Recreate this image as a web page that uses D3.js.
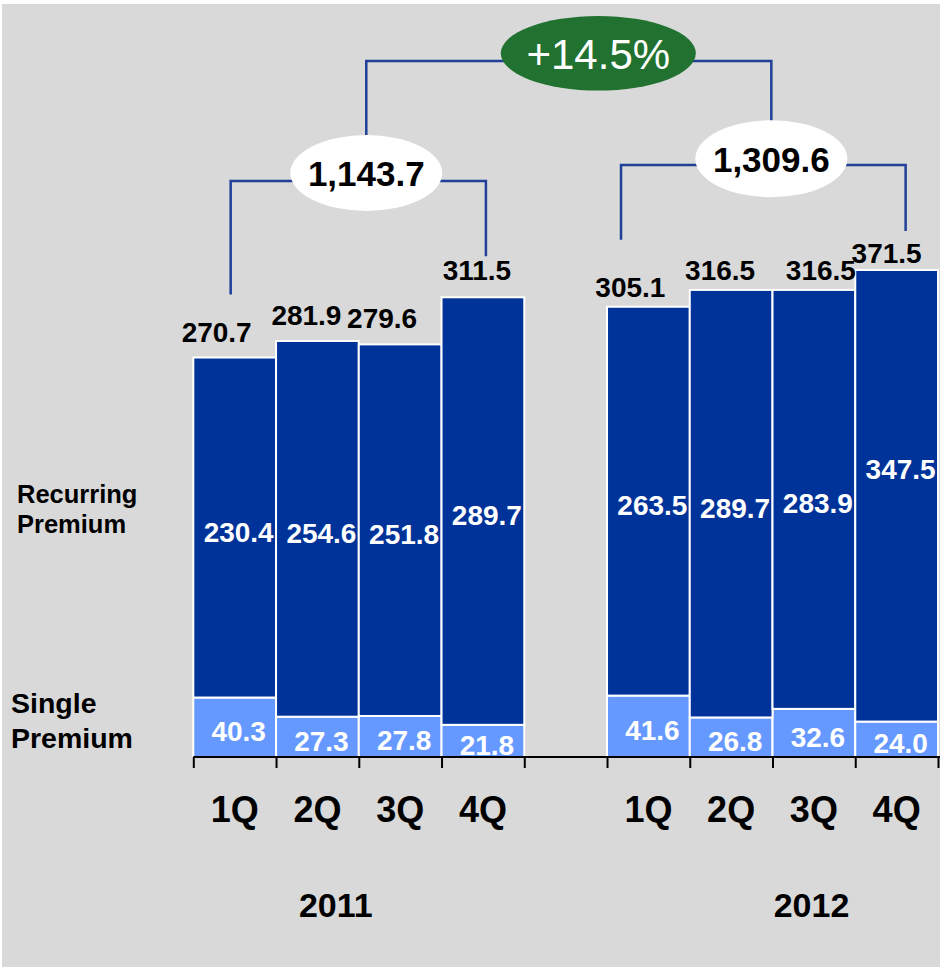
<!DOCTYPE html>
<html>
<head>
<meta charset="utf-8">
<script src="https://cdnjs.cloudflare.com/ajax/libs/d3/7.8.5/d3.min.js"></script>
<style>
  body { margin: 0; background: #fff; }
  text { font-family: "Liberation Sans", Arial, sans-serif; }
</style>
</head>
<body>
<div id="chart"></div>
<script>
// data
var quarters = ["1Q", "2Q", "3Q", "4Q"];
var years = ["2011", "2012"];
var single = [40.3, 27.3, 27.8, 21.8, 41.6, 26.8, 32.6, 24.0];
var recurring = [230.4, 254.6, 251.8, 289.7, 263.5, 289.7, 283.9, 347.5];
var totals = [270.7, 281.9, 279.6, 311.5, 305.1, 316.5, 316.5, 371.5];
var yearTotals = ["1,143.7", "1,309.6"];
var growth = "+14.5%";

// label nudges for the totals above the bars [dx, dy]
var totalNudge = [[-18, -16], [-11, -16], [-18, -16], [-6, -17], [-18, -10], [-11, -10], [7, -10], [-10, -7]];

var W = 940, H = 967;
var svg = d3.select("#chart").append("svg").attr("width", W).attr("height", H);

// grey panel
svg.append("rect").attr("x", 2).attr("y", 4).attr("width", W - 2).attr("height", H - 4).attr("fill", "#d9d9d9");

// build rows
var rows = single.map(function (s, i) {
  var yr = years[Math.floor(i / 4)];
  return { key: yr + "-" + quarters[i % 4], year: yr, q: quarters[i % 4], single: s, recurring: recurring[i], total: totals[i], i: i };
});
var slots = rows.slice(0, 4).map(function (d) { return d.key; })
  .concat(["gap"])
  .concat(rows.slice(4).map(function (d) { return d.key; }));

var x = d3.scaleBand().domain(slots).range([193.3, 938]).padding(0);
var y = d3.scaleLinear().domain([0, 330]).range([757, 270]).clamp(true);
var yRaw = y.copy().clamp(false);

var stack = d3.stack().keys(["single", "recurring"]);
var series = stack(rows);
var colors = { single: "#6699ff", recurring: "#003399" };

// bars
svg.append("g").selectAll("g")
  .data(series).enter().append("g")
  .attr("fill", function (s) { return colors[s.key]; })
  .selectAll("rect")
  .data(function (s) { return s; }).enter().append("rect")
  .attr("x", function (d) { return x(d.data.key); })
  .attr("width", x.bandwidth())
  .attr("y", function (d) { return y(d[1]); })
  .attr("height", function (d) { return y(d[0]) - y(d[1]); })
  .attr("stroke", "#fff")
  .attr("stroke-width", 2);

// in-bar labels
series.forEach(function (s) {
  svg.append("g").selectAll("text")
    .data(s).enter().append("text")
    .attr("x", function (d) { return x(d.data.key) + x.bandwidth() / 2 + 4; })
    .attr("y", function (d) { return (yRaw(d[0]) + yRaw(d[1])) / 2 + 14; })
    .attr("text-anchor", "middle")
    .attr("fill", "#fff")
    .style("font-size", "28px")
    .style("font-weight", "bold")
    .text(function (d) { return d.data[s.key].toFixed(1); });
});

// x axis: ticks at every slot boundary
var xi = d3.scaleLinear().domain([0, slots.length]).range(x.range());
var axis = svg.append("g")
  .attr("transform", "translate(0," + y(0) + ")")
  .call(d3.axisBottom(xi).tickValues(d3.range(slots.length + 1)).tickFormat("").tickSize(11).tickSizeOuter(0));
axis.select(".domain").attr("stroke", "#000").attr("stroke-width", 2).attr("d", "M" + x.range()[0] + ",0H" + W);
axis.selectAll(".tick line").attr("stroke", "#000").attr("stroke-width", 2);

// totals above the bars
svg.append("g").selectAll("text")
  .data(rows).enter().append("text")
  .attr("x", function (d) { return x(d.key) + x.bandwidth() / 2 + totalNudge[d.i][0]; })
  .attr("y", function (d) { return y(d.total) + totalNudge[d.i][1]; })
  .attr("text-anchor", "middle")
  .style("font-size", "28px")
  .style("font-weight", "bold")
  .text(function (d) { return d.total.toFixed(1); });

// quarter labels
svg.append("g").selectAll("text")
  .data(rows).enter().append("text")
  .attr("x", function (d) { return x(d.key) + x.bandwidth() / 2; })
  .attr("y", 821.7)
  .attr("text-anchor", "middle")
  .style("font-size", "36px")
  .style("font-weight", "bold")
  .text(function (d) { return d.q; });

// year labels
var yearDx = [-23, 39];
years.forEach(function (yr, k) {
  var first = x(yr + "-1Q"), last = x(yr + "-4Q") + x.bandwidth();
  svg.append("text")
    .attr("x", (first + last) / 2 + yearDx[k])
    .attr("y", 916.7)
    .attr("text-anchor", "middle")
    .style("font-size", "34px")
    .style("font-weight", "bold")
    .text(yr);
});

// side labels
svg.append("g").selectAll("text")
  .data(["Recurring", "Premium"]).enter().append("text")
  .attr("x", 17).attr("y", function (d, i) { return 502.7 + i * 30.6; })
  .style("font-size", "25.5px").style("font-weight", "bold")
  .text(function (d) { return d; });
svg.append("g").selectAll("text")
  .data(["Single", "Premium"]).enter().append("text")
  .attr("x", 11).attr("y", function (d, i) { return 713.3 + i * 35; })
  .style("font-size", "28.5px").style("font-weight", "bold")
  .text(function (d) { return d; });

// brackets
var lineColor = "#1f3f99";
function bracket(x1, y1, x2, y2, yBar) {
  svg.append("path")
    .attr("d", "M" + x1 + "," + y1 + "V" + yBar + "H" + x2 + "V" + y2)
    .attr("fill", "none")
    .attr("stroke", lineColor)
    .attr("stroke-width", 2.5);
}
function oval(cx, cy, rx, ry, fill, txt, color, size, weight, dy) {
  svg.append("ellipse").attr("cx", cx).attr("cy", cy).attr("rx", rx).attr("ry", ry).attr("fill", fill);
  svg.append("text").attr("x", cx).attr("y", cy + dy).attr("text-anchor", "middle")
    .attr("fill", color).style("font-size", size).style("font-weight", weight).text(txt);
}
function mid(k) { return x(k) + x.bandwidth() / 2; }

// 2011 bracket
var b1 = { l: mid("2011-1Q") - 4, r: mid("2011-4Q") + 3, yb: 181 };
bracket(b1.l, y(totals[0]) - 63, b1.r, y(totals[3]) - 41, b1.yb);
// 2012 bracket
var b2 = { l: x("2012-1Q") + 14, r: mid("2012-4Q") + 9, yb: 165 };
bracket(b2.l, y(totals[4]) - 67, b2.r, y(totals[7]) - 39, b2.yb);
// top bracket
var c1 = (b1.l + b1.r) / 2 + 8, c2 = (b2.l + b2.r) / 2 + 8;
bracket(c1, 173, c2, 158, 61);

oval(c1, 173, 76, 38, "#fff", yearTotals[0], "#000", "35px", "bold", 13);
oval(c2, 158.7, 76, 38.5, "#fff", yearTotals[1], "#000", "35px", "bold", 13);
oval(598.3, 53.3, 97.5, 37.3, "#217230", growth, "#fff", "42px", "normal", 16);
</script>
</body>
</html>
